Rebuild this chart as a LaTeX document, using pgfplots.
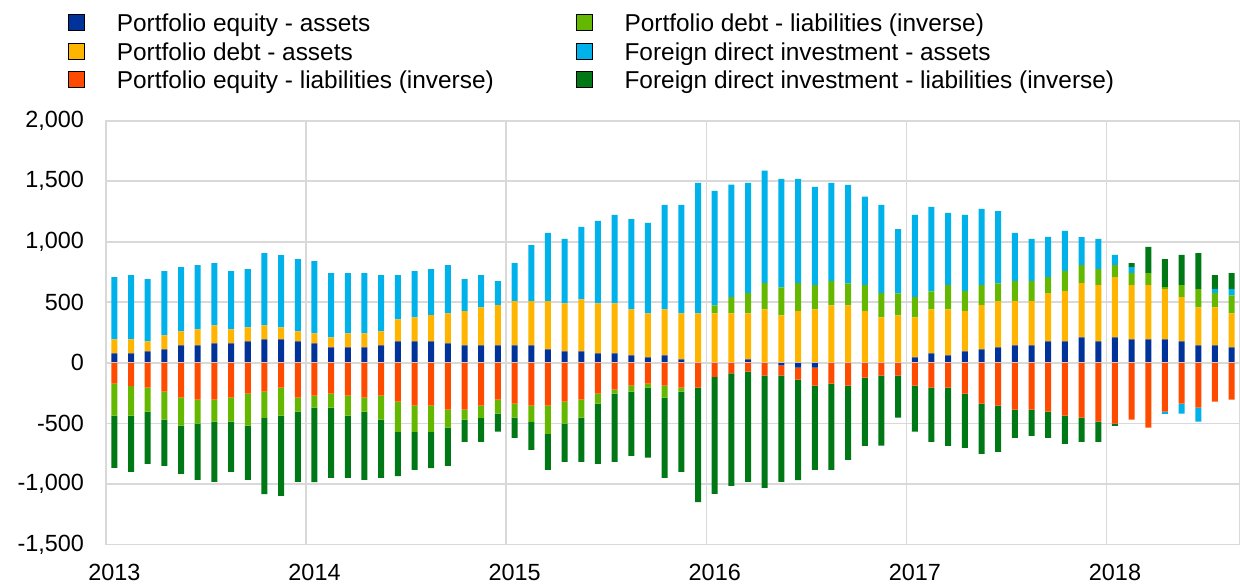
\documentclass[border=0pt]{standalone}
\usepackage{pgfplots}
\pgfplotsset{compat=1.18}
\usepackage{pgfplotstable}
\usepackage{fontspec}
\setmainfont{Liberation Sans}
\definecolor{cPEA}{HTML}{003299}
\definecolor{cPDA}{HTML}{FFB400}
\definecolor{cPEL}{HTML}{FF4B00}
\definecolor{cPDL}{HTML}{65B800}
\definecolor{cFDIA}{HTML}{00B1EA}
\definecolor{cFDIL}{HTML}{007816}
\definecolor{gridc}{HTML}{D9D9D9}

% monthly data, Jan 2013 (x=0.5) to Aug 2018 (x=67.5); EUR bn
\pgfplotstableread{
x pea pda pel pdl fdia fdil
0.5 77 116 -171 -265 514 -431
1.5 77 116 -193 -243 531 -464
2.5 94 83 -205 -199 514 -431
3.5 111 116 -238 -232 531 -381
4.5 144 116 -287 -232 531 -398
5.5 144 133 -304 -199 531 -464
6.5 160 149 -304 -182 514 -498
7.5 160 116 -287 -199 481 -415
8.5 177 116 -254 -265 481 -448
9.5 193 116 -238 -216 597 -630
10.5 193 100 -205 -232 597 -663
11.5 177 83 -287 -116 597 -580
12.5 160 83 -271 -100 597 -614
13.5 127 83 -254 -116 531 -580
14.5 127 116 -271 -166 498 -514
15.5 127 116 -287 -116 498 -564
16.5 144 116 -271 -199 464 -481
17.5 177 182 -321 -249 365 -365
18.5 177 199 -354 -216 381 -315
19.5 177 216 -354 -216 381 -299
20.5 160 249 -387 -149 398 -315
21.5 144 282 -387 -83 265 -182
22.5 144 315 -354 -100 265 -199
23.5 144 332 -304 -116 199 -149
24.5 144 365 -337 -116 315 -166
25.5 144 365 -354 -133 464 -232
26.5 111 398 -354 -232 564 -299
27.5 94 398 -321 -182 531 -315
28.5 94 431 -304 -149 597 -365
29.5 77 415 -254 -83 680 -498
30.5 77 415 -221 -33 730 -564
31.5 61 381 -188 -50 746 -531
32.5 44 365 -171 -33 746 -580
33.5 61 381 -188 -100 862 -663
34.5 28 381 -205 -33 896 -663
35.5 0 409 -205 0 1078 -945
36.5 0 409 -116 66 945 -967
37.5 0 409 -88 133 929 -929
38.5 28 381 -72 166 912 -912
39.5 0 442 -105 216 929 -929
40.5 -22 392 -83 232 896 -879
41.5 -39 426 -100 232 862 -829
42.5 -39 442 -149 199 813 -697
43.5 0 475 -171 199 813 -713
44.5 0 475 -188 182 813 -614
45.5 0 426 -122 216 730 -564
46.5 0 376 -105 199 730 -580
47.5 0 392 -105 182 531 -348
48.5 44 332 -188 166 680 -381
49.5 77 365 -205 149 697 -448
50.5 61 381 -205 199 597 -481
51.5 94 332 -254 166 630 -448
52.5 111 365 -337 166 630 -415
53.5 127 381 -354 149 597 -381
54.5 144 365 -387 166 398 -232
55.5 144 365 -387 166 348 -216
56.5 177 398 -404 133 332 -216
57.5 177 415 -437 166 332 -232
58.5 210 448 -453 149 232 -199
59.5 177 464 -486 133 249 -166
60.5 210 498 -503 100 83 -17
61.5 193 448 -470 100 50 33
62.5 193 448 -536 100 0 216
63.5 193 415 -404 17 -17 232
64.5 177 365 -337 100 -83 249
65.5 144 315 -370 149 -116 299
66.5 144 315 -321 116 33 116
67.5 127 282 -304 149 50 133
}\data

\pgfplotsset{
  base/.style={
    width=567pt, height=211.85pt, scale only axis,
    xmin=0, xmax=68, ymin=-1500, ymax=2000,
    ybar stacked, bar width=0.36,
  },
  bar/.style={fill=#1, draw=none, forget plot},
}

\begin{document}
\begin{tikzpicture}
\useasboundingbox (-53pt,-20.3pt) rectangle (567pt,272.2pt);
% positive parts
\begin{axis}[base,
  axis line style={gridc, line width=0.8pt},
  grid=major, major grid style={gridc, line width=0.8pt},
  xtick={0,12,24,36,48,60}, xticklabels={2013,2014,2015,2016,2017,2018},
  ytick={-1500,-1000,-500,0,500,1000,1500,2000},
  major tick length=0pt,
  /pgf/number format/assume math mode=true,
  ticklabel style={font=\fontsize{11.7}{14}\selectfont, text=black},
  yticklabel style={xshift=-7.5pt},
  xticklabel style={xshift=4.2pt, yshift=-6.5pt},
  legend columns=2,
  legend cell align=left,
  legend image code/.code={\fill[#1] (0pt,-2.3pt) rectangle (8pt,5.7pt);},
  legend style={draw=none, fill=none, inner sep=0pt, outer sep=0pt,
    at={(0,1)}, anchor=north west, xshift=-19pt, yshift=53.5pt,
    font=\fontsize{12.2}{14}\selectfont, row sep=2.3pt,
    nodes={inner sep=0pt, text height=9pt, text depth=3pt},
    /tikz/every odd column/.append style={column sep=16pt},
    /tikz/every even column/.append style={column sep=41pt}},
]
\addplot[bar=cPEA]  table[x=x, y expr={max(\thisrow{pea},0)}]  {\data};
\addplot[bar=cPDA]  table[x=x, y expr={max(\thisrow{pda},0)}]  {\data};
\addplot[bar=cPEL]  table[x=x, y expr={max(\thisrow{pel},0)}]  {\data};
\addplot[bar=cPDL]  table[x=x, y expr={max(\thisrow{pdl},0)}]  {\data};
\addplot[bar=cFDIA] table[x=x, y expr={max(\thisrow{fdia},0)}] {\data};
\addplot[bar=cFDIL] table[x=x, y expr={max(\thisrow{fdil},0)}] {\data};
\addlegendimage{fill=cPEA}\addlegendentry{Portfolio equity - assets}
\addlegendimage{fill=cPDL}\addlegendentry{Portfolio debt - liabilities (inverse)}
\addlegendimage{fill=cPDA}\addlegendentry{Portfolio debt - assets}
\addlegendimage{fill=cFDIA}\addlegendentry{Foreign direct investment - assets}
\addlegendimage{fill=cPEL}\addlegendentry{Portfolio equity - liabilities (inverse)}
\addlegendimage{fill=cFDIL}\addlegendentry{Foreign direct investment - liabilities (inverse)}
\end{axis}
% negative parts
\begin{axis}[base, hide axis]
\addplot[bar=cPEA]  table[x=x, y expr={min(\thisrow{pea},0)}]  {\data};
\addplot[bar=cPDA]  table[x=x, y expr={min(\thisrow{pda},0)}]  {\data};
\addplot[bar=cPEL]  table[x=x, y expr={min(\thisrow{pel},0)}]  {\data};
\addplot[bar=cPDL]  table[x=x, y expr={min(\thisrow{pdl},0)}]  {\data};
\addplot[bar=cFDIA] table[x=x, y expr={min(\thisrow{fdia},0)}] {\data};
\addplot[bar=cFDIL] table[x=x, y expr={min(\thisrow{fdil},0)}] {\data};
\draw[gridc, line width=1pt] (axis cs:0,0) -- (axis cs:68,0);
\end{axis}
\end{tikzpicture}
\end{document}
